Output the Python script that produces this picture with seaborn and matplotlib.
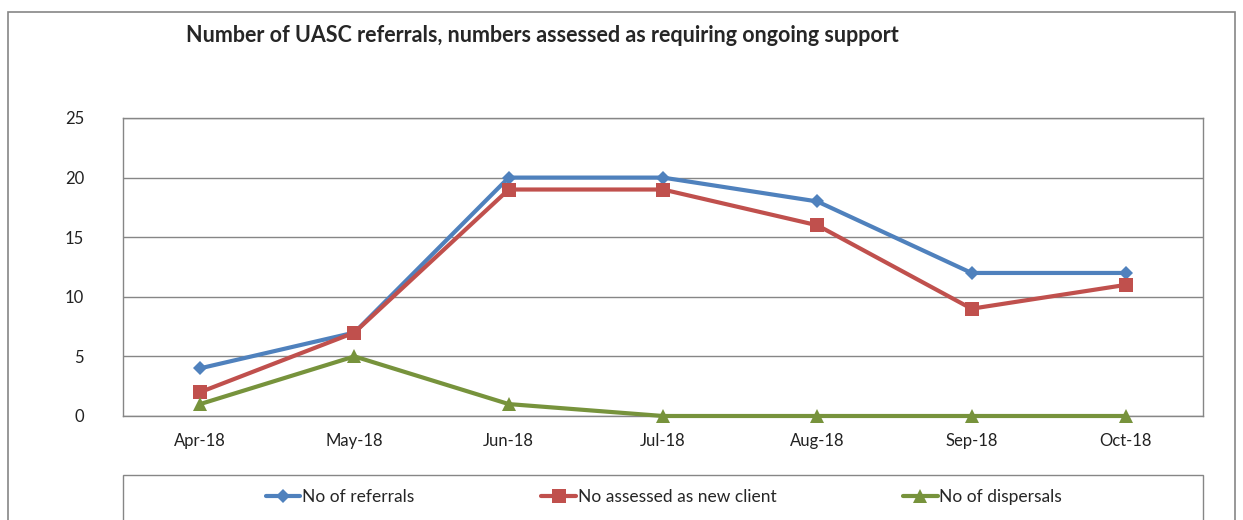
import pandas as pd
import matplotlib.pyplot as plt
import matplotlib.patches as patches
import seaborn as sns

# Dados do gráfico
months = ["Apr-18", "May-18", "Jun-18", "Jul-18", "Aug-18", "Sep-18", "Oct-18"]
referrals = [4, 7, 20, 20, 18, 12, 12]
new_clients = [2, 7, 19, 19, 16, 9, 11]
dispersals = [1, 5, 1, 0, 0, 0, 0]
series_names = ["No of referrals", "No assessed as new client", "No of dispersals"]
colors = ["#4F81BD", "#C0504D", "#77933C"]
marker_styles = ["D", "s", "^"]
marker_sizes = [7, 9.5, 10]

df = pd.DataFrame({"month": months * 3,
                   "pos": list(range(len(months))) * 3,
                   "value": referrals + new_clients + dispersals,
                   "series": [s for s in series_names for _ in months]})

sns.set_style("white")
plt.rcParams["font.family"] = ["Lato", "DejaVu Sans"]

fig = plt.figure(figsize=(12.43, 5.2), dpi=100)
ax = fig.add_axes([123 / 1243, 1 - 416 / 520, 1080 / 1243, 298 / 520])

sns.lineplot(data=df, x="pos", y="value", hue="series", style="series",
             markers=dict(zip(series_names, marker_styles)), dashes=False,
             palette=dict(zip(series_names, colors)), linewidth=3,
             markeredgewidth=0, ax=ax, legend=False)
for line, ms in zip(ax.lines, marker_sizes):
    line.set_markersize(ms)
    line.set_clip_on(False)
    line.set_zorder(3)

ax.set_xlim(-0.5, len(months) - 0.5)
ax.set_ylim(0, 25)
ax.set_yticks([0, 5, 10, 15, 20, 25])
ax.set_xticks(range(len(months)))
ax.set_xticklabels(months)
ax.set_xlabel("")
ax.set_ylabel("")
ax.tick_params(axis="both", length=0, labelsize=12, colors="#222222")
ax.tick_params(axis="y", pad=28)
ax.tick_params(axis="x", pad=12)
ax.yaxis.grid(True, color="#868686", linewidth=1)
ax.set_axisbelow(True)
for sp in ax.spines.values():
    sp.set_color("#868686")
    sp.set_linewidth(1)
    sp.set_zorder(2)

fig.text(186 / 1243, 1 - 35 / 520, "Number of UASC referrals, numbers assessed as requiring ongoing support",
         fontsize=15.5, fontweight="bold", ha="left", va="center")

# Moldura exterior e da legenda
fig.patches.append(patches.Rectangle((8 / 1243, -0.1), 1227 / 1243, 1.1 - 12 / 520,
                                     transform=fig.transFigure, fill=False,
                                     edgecolor="#868686", linewidth=1.2))
fig.patches.append(patches.Rectangle((123 / 1243, -0.1), 1080 / 1243, 0.1 + 45 / 520,
                                     transform=fig.transFigure, fill=False,
                                     edgecolor="#868686", linewidth=1))

handles = [plt.Line2D([], [], color=c, marker=m, linewidth=3, markersize=ms, markeredgewidth=0)
           for c, m, ms in zip(colors, marker_styles, marker_sizes)]
fig.legend(handles, series_names, loc="center", bbox_to_anchor=(664 / 1243, 1 - 497 / 520),
           ncol=3, frameon=False, fontsize=12.5, handlelength=2.0, handletextpad=0.1,
           columnspacing=7.3)

fig.savefig("out.png", dpi=100)
